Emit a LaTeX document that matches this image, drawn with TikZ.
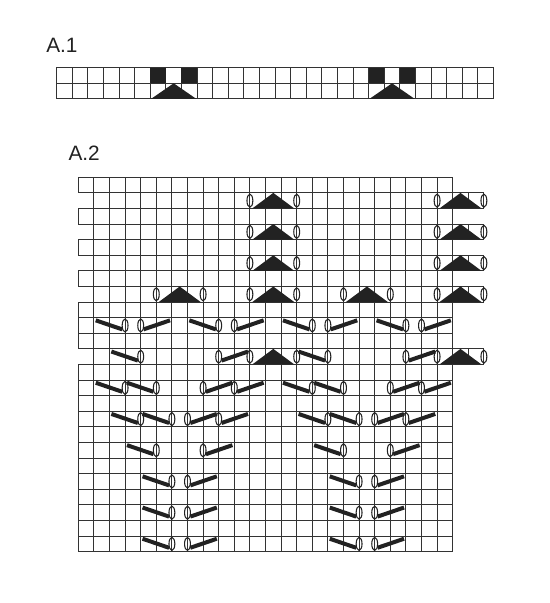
\documentclass[tikz,border=0pt]{standalone}
\usepackage{fontspec}
\setmainfont{Liberation Sans}
\definecolor{gridgray}{HTML}{333333}
\definecolor{inkblack}{HTML}{222222}
\begin{document}
\begin{tikzpicture}[x=11.7pt,y=-11.7pt,
  cell/.style={draw=gridgray,line width=0.8pt},
  ink/.style={fill=inkblack},
  yo/.style={draw=inkblack,line width=0.8pt},
  bar/.style={draw=inkblack,line width=3pt},
  title/.style={anchor=base west,inner sep=0pt,text=inkblack,font=\fontsize{15.6}{18}\selectfont}]
\useasboundingbox (-5.019,-11.365) rectangle (30.237,27.289);
% labels
\node[title] (A1) at (-2.07,-7.97) {A.1};
\node[title] (A2) at (-0.64,-1.06) {A.2};
% chart A.1
\begin{scope}[shift={(-1.385,-7.026)}]
\foreach \r in {0,1} {
  \draw[cell] (0,\r) rectangle (28,\r+1);
  \foreach \c in {1,...,27} \draw[cell] (\c,\r) -- (\c,\r+1);
}
\foreach \a in {6,20} {
  \fill[ink] (\a,0) rectangle (\a+1,1);
  \fill[ink] (\a+2,0) rectangle (\a+3,1);
  \fill[ink] (\a+0.05,2) -- (\a+1.5,1) -- (\a+2.95,2) -- cycle;
}
\end{scope}
% chart A.2: rows
\foreach \r/\s/\e in {0/0/24,1/1/26,2/0/24,3/1/26,4/0/24,5/1/26,6/0/24,7/1/26,
  8/0/24,9/0/24,10/0/24,11/1/26} {
  \draw[cell] (\s,\r) rectangle (\e,\r+1);
  \foreach \c in {\s,...,\e} \draw[cell] (\c,\r) -- (\c,\r+1);
}
\foreach \r in {12,...,23} {
  \draw[cell] (0,\r) rectangle (24,\r+1);
  \foreach \c in {1,...,23} \draw[cell] (\c,\r) -- (\c,\r+1);
}
% double decreases with yarn overs
\foreach \r/\a in {1/11,1/23,3/11,3/23,5/11,5/23,7/5,7/11,7/17,7/23,11/11,11/23} {
  \fill[ink] (\a+0.15,\r+1) -- (\a+1.5,\r) -- (\a+2.85,\r+1) -- cycle;
  \draw[yo] (\a,\r+0.5) ellipse [x radius=2.2pt,y radius=4.9pt];
  \draw[yo] (\a+3,\r+0.5) ellipse [x radius=2.2pt,y radius=4.9pt];
}
% left slants
\foreach \r/\a in {9/1,9/7,9/13,9/19,11/2,11/14,13/1,13/3,13/13,13/15,
  15/2,15/4,15/14,15/16,17/3,17/15,19/4,19/16,21/4,21/16,23/4,23/16} {
  \draw[bar] (\a+0.12,\r+0.17) -- (\a+1.82,\r+0.75);
  \draw[yo] (\a+2,\r+0.5) ellipse [x radius=2.2pt,y radius=4.9pt];
}
% right slants
\foreach \r/\a in {9/4,9/10,9/16,9/22,11/9,11/21,13/8,13/10,13/20,13/22,
  15/7,15/9,15/19,15/21,17/8,17/20,19/7,19/19,21/7,21/19,23/7,23/19} {
  \draw[bar] (\a+0.18,\r+0.75) -- (\a+1.88,\r+0.17);
  \draw[yo] (\a,\r+0.5) ellipse [x radius=2.2pt,y radius=4.9pt];
}
\end{tikzpicture}
\end{document}
